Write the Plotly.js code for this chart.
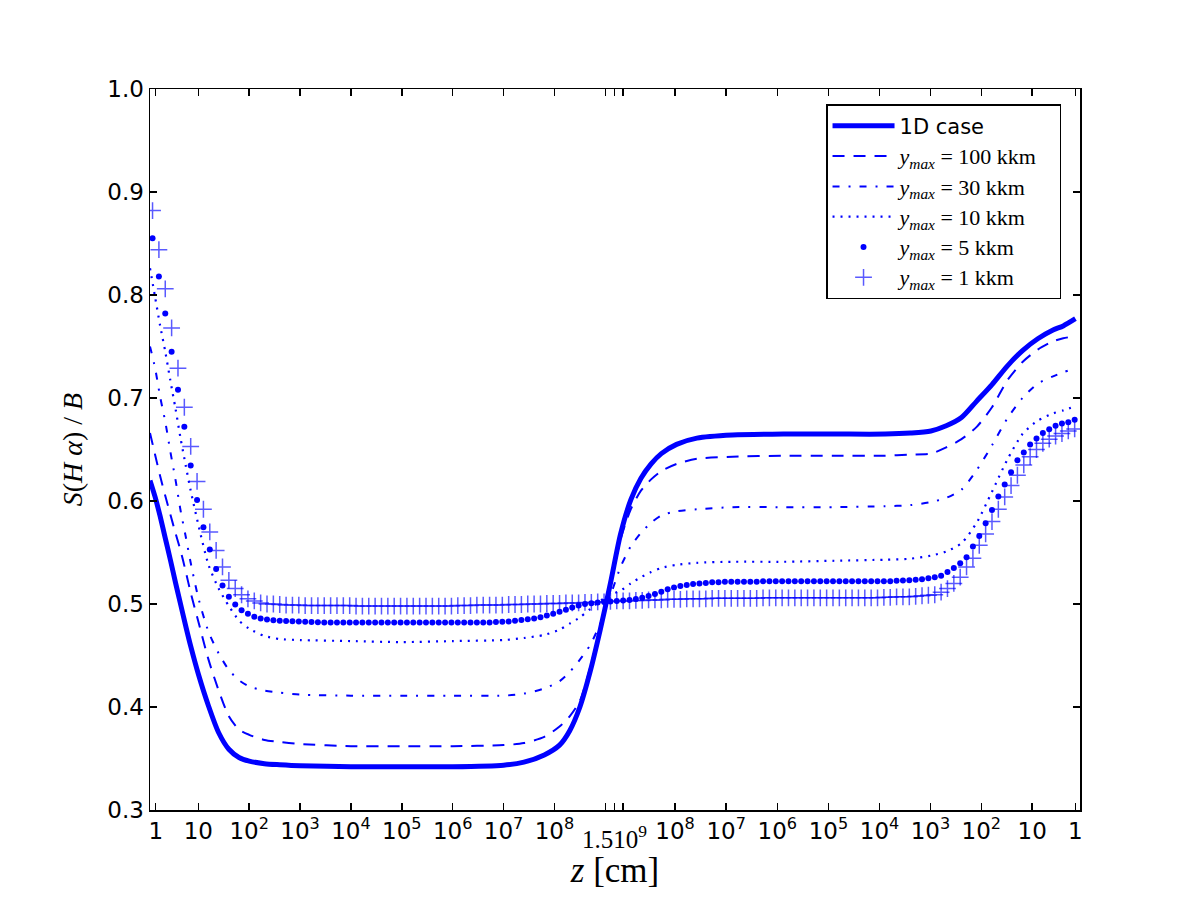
<!DOCTYPE html>
<html>
<head>
<meta charset="utf-8">
<script src="https://cdn.plot.ly/plotly-3.0.1.min.js"></script>
<style>body{margin:0;background:#fff;} #chart{width:1200px;height:900px;}</style>
</head>
<body>
<div id="chart"></div>
<script>
// Axis coordinate u: 10^n at u=n on the left half, mirrored about 1.5e9 on the right half
const xLine = [0.05,0.15,0.25,0.35,0.45,0.55,0.65,0.75,0.85,1.0,1.2,1.4,1.6,1.8,2.0,2.3,2.6,3.0,4.0,5.0,6.0,7.0,7.4,7.8,8.1,8.3,8.5,8.7,8.9,9.1,9.3,9.5,9.7,9.9,10.1,10.4,10.8,11.5,12.5,13.5,14.5,15.0,15.4,15.7,16.0,16.3,16.6,16.9,17.2,17.5,17.8,18.0,18.24];

const case1D = [0.620,0.604,0.585,0.564,0.543,0.521,0.500,0.479,0.459,0.432,0.401,0.375,0.359,0.351,0.3475,0.345,0.344,0.343,0.342,0.342,0.342,0.3435,0.3465,0.3535,0.363,0.377,0.400,0.434,0.475,0.520,0.568,0.601,0.622,0.636,0.646,0.655,0.661,0.664,0.665,0.665,0.665,0.666,0.668,0.673,0.681,0.697,0.713,0.731,0.746,0.7575,0.766,0.770,0.777];

const ymax100 = [0.666,0.645,0.624,0.605,0.587,0.569,0.552,0.532,0.511,0.483,0.446,0.416,0.391,0.378,0.373,0.368,0.366,0.364,0.362,0.362,0.362,0.363,0.365,0.371,0.381,0.391,0.406,0.438,0.477,0.518,0.563,0.592,0.610,0.621,0.629,0.636,0.641,0.643,0.644,0.644,0.644,0.645,0.646,0.652,0.660,0.672,0.691,0.717,0.735,0.747,0.755,0.758,0.760];

const ymax30 = [0.750,0.729,0.701,0.677,0.648,0.621,0.591,0.566,0.540,0.506,0.473,0.452,0.436,0.426,0.420,0.416,0.414,0.412,0.411,0.411,0.411,0.411,0.413,0.418,0.425,0.434,0.446,0.460,0.481,0.508,0.536,0.556,0.569,0.579,0.586,0.590,0.592,0.594,0.594,0.594,0.595,0.596,0.599,0.603,0.611,0.630,0.654,0.680,0.700,0.714,0.721,0.725,0.729];

const ymax10 = [0.826,0.798,0.770,0.745,0.717,0.690,0.661,0.635,0.610,0.577,0.538,0.515,0.498,0.484,0.476,0.469,0.466,0.465,0.464,0.463,0.464,0.465,0.467,0.470,0.475,0.481,0.487,0.495,0.503,0.509,0.513,0.520,0.526,0.531,0.535,0.538,0.540,0.541,0.541,0.542,0.543,0.544,0.547,0.551,0.559,0.579,0.609,0.640,0.665,0.678,0.685,0.688,0.692];

const xMark = [
 0.1,0.225,0.35,0.475,0.6,0.725,0.85,0.975,
 1.1,1.225,1.35,1.475,1.6,1.725,1.85,1.975,
 2.1,2.225,2.35,2.475,2.6,2.725,2.85,2.975,
 3.1,3.225,3.35,3.475,3.6,3.725,3.85,3.975,
 4.1,4.225,4.35,4.475,4.6,4.725,4.85,4.975,
 5.1,5.225,5.35,5.475,5.6,5.725,5.85,5.975,
 6.1,6.225,6.35,6.475,6.6,6.725,6.85,6.975,
 7.1,7.225,7.35,7.475,7.6,7.725,7.85,7.975,
 8.1,8.225,8.35,8.475,8.6,8.725,8.85,8.975,
 9.1,9.225,9.35,9.475,9.6,9.725,9.85,9.975,
 10.1,10.225,10.35,10.475,10.6,10.725,10.85,10.975,
 11.1,11.225,11.35,11.475,11.6,11.725,11.85,11.975,
 12.1,12.225,12.35,12.475,12.6,12.725,12.85,12.975,
 13.1,13.225,13.35,13.475,13.6,13.725,13.85,13.975,
 14.1,14.225,14.35,14.475,14.6,14.725,14.85,14.975,
 15.1,15.225,15.35,15.475,15.6,15.725,15.85,15.975,
 16.1,16.225,16.35,16.475,16.6,16.725,16.85,16.975,
 17.1,17.225,17.35,17.475,17.6,17.725,17.85,17.975,
 18.1,18.225];

const ymax5 = [
 0.855,0.818,0.782,0.745,0.708,0.672,0.6345,0.601,
 0.5745,0.553,0.534,0.518,0.507,0.4995,0.494,0.4905,
 0.4877,0.486,0.485,0.4843,0.4838,0.4835,0.4833,0.483,
 0.4828,0.4825,0.4822,0.482,0.482,0.482,0.482,0.482,
 0.482,0.482,0.482,0.482,0.482,0.482,0.482,0.482,
 0.482,0.482,0.482,0.482,0.482,0.482,0.482,0.482,
 0.482,0.482,0.482,0.482,0.482,0.482,0.4825,0.4828,
 0.483,0.4838,0.4845,0.4852,0.486,0.4872,0.4888,0.4905,
 0.4925,0.4945,0.4965,0.4985,0.500,0.5008,0.5015,0.502,
 0.5025,0.503,0.5035,0.504,0.5048,0.506,0.5078,0.5098,
 0.512,0.5143,0.516,0.5175,0.5185,0.5195,0.520,0.5205,
 0.521,0.521,0.5215,0.5215,0.5217,0.5217,0.5217,0.5217,
 0.522,0.522,0.522,0.522,0.522,0.522,0.522,0.522,
 0.522,0.522,0.522,0.522,0.522,0.522,0.522,0.522,
 0.522,0.522,0.522,0.522,0.5222,0.5225,0.5228,0.523,
 0.5235,0.524,0.525,0.526,0.5275,0.531,0.535,0.5395,
 0.5455,0.5558,0.566,0.5783,0.5913,0.6044,0.616,0.628,
 0.6395,0.647,0.6548,0.6607,0.666,0.6697,0.673,0.6752,
 0.6765,0.679];

const ymax1 = [
 0.882,0.844,0.806,0.768,0.729,0.691,0.653,0.619,
 0.592,0.570,0.552,0.536,0.523,0.515,0.509,0.505,
 0.503,0.501,0.500,0.500,0.4995,0.499,0.499,0.499,
 0.4985,0.4985,0.4985,0.4985,0.4985,0.4985,0.4985,0.4985,
 0.498,0.498,0.498,0.498,0.498,0.498,0.498,0.498,
 0.498,0.498,0.498,0.498,0.498,0.498,0.498,0.498,
 0.4985,0.4985,0.4985,0.499,0.499,0.499,0.499,0.499,
 0.4995,0.4995,0.4995,0.500,0.500,0.500,0.5005,0.5005,
 0.5005,0.501,0.501,0.501,0.5015,0.5015,0.502,0.502,
 0.5025,0.503,0.503,0.503,0.5035,0.5035,0.504,0.504,
 0.504,0.5045,0.5045,0.5045,0.505,0.505,0.505,0.505,
 0.5055,0.5055,0.5055,0.5055,0.5055,0.5055,0.5055,0.5055,
 0.506,0.506,0.506,0.506,0.506,0.506,0.506,0.506,
 0.506,0.506,0.506,0.506,0.506,0.506,0.506,0.506,
 0.506,0.506,0.506,0.5065,0.5065,0.507,0.507,0.507,
 0.5075,0.508,0.5085,0.509,0.5115,0.515,0.520,0.526,
 0.536,0.5445,0.557,0.568,0.580,0.592,0.604,0.615,
 0.625,0.635,0.643,0.650,0.656,0.660,0.663,0.6655,
 0.668,0.670];

const xTickVals = [0.162,1,2,3,4,5,6,7,8,9.0,9.176,9.352,10.37,11.375,12.38,13.385,14.39,15.39,16.39,17.39,18.238];
const xTickText = ["1","10","10<sup>2</sup>","10<sup>3</sup>","10<sup>4</sup>","10<sup>5</sup>","10<sup>6</sup>","10<sup>7</sup>","10<sup>8</sup>","","","","10<sup>8</sup>","10<sup>7</sup>","10<sup>6</sup>","10<sup>5</sup>","10<sup>4</sup>","10<sup>3</sup>","10<sup>2</sup>","10","1"];
const centerLabel = "1.510<sup>9</sup>";
const centerPos = 9.176;

const seriesNames = ["1D case","100 kkm","30 kkm","10 kkm","5 kkm","1 kkm"];

const blue = "#0000ff";
const serif = "Liberation Serif, DejaVu Serif, serif";
function ymaxName(s){
  return "<span style='font-family:Liberation Serif;font-size:22px'><i>y</i><sub><i>max</i></sub> = " + s + "&nbsp;&nbsp;&nbsp;</span>";
}

const traces = [
  {x: xLine, y: case1D, name: seriesNames[0], mode: "lines",
   line: {color: blue, width: 5, shape: "spline", smoothing: 0.75}},
  {x: xLine, y: ymax100, name: ymaxName(seriesNames[1]), mode: "lines",
   line: {color: blue, width: 2, dash: "12px,9px", shape: "spline", smoothing: 0.7}},
  {x: xLine, y: ymax30, name: ymaxName(seriesNames[2]), mode: "lines",
   line: {color: blue, width: 2, dash: "7px,9px,2px,9px", shape: "spline", smoothing: 0.7}},
  {x: xLine, y: ymax10, name: ymaxName(seriesNames[3]), mode: "lines",
   line: {color: blue, width: 2.2, dash: "2px,6px", shape: "spline", smoothing: 0.7}},
  {x: xMark, y: ymax5, name: ymaxName(seriesNames[4]), mode: "markers",
   marker: {symbol: "circle", size: 6, color: blue, line: {width: 0}}},
  {x: xMark, y: ymax1, name: ymaxName(seriesNames[5]), mode: "markers",
   marker: {symbol: "cross-thin-open", size: 12, color: "rgba(0,0,255,0.65)",
            line: {width: 1.5, color: "rgba(0,0,255,0.65)"}}}
];

const axisCommon = {
  showline: true, linecolor: "black", linewidth: 1.5, mirror: "ticks",
  ticks: "inside", ticklen: 7, tickwidth: 1.5, tickcolor: "black",
  showgrid: false, zeroline: false,
  tickfont: {family: "DejaVu Sans", size: 23, color: "black"}
};

const layout = {
  width: 1200, height: 900,
  margin: {l: 150, r: 120, t: 89, b: 90},
  paper_bgcolor: "white", plot_bgcolor: "white",
  showlegend: true,
  xaxis: Object.assign({}, axisCommon, {
    range: [0.05, 18.33],
    tickmode: "array", tickvals: xTickVals, ticktext: xTickText,
    title: {text: "<i>z</i> [cm]", font: {family: serif, size: 35, color: "black"}, standoff: 14}
  }),
  yaxis: Object.assign({}, axisCommon, {
    range: [0.3, 1.0], dtick: 0.1, tick0: 0.3, tickformat: ".1f",
    title: {text: "<i>S</i>(<i>H α</i>) / <i>B</i>", font: {family: serif, size: 28, color: "black"}, standoff: 16}
  }),
  legend: {
    x: 0.9796, xanchor: "right", y: 0.979, yanchor: "top",
    bgcolor: "white", bordercolor: "black", borderwidth: 1.5,
    font: {family: "DejaVu Sans", size: 21, color: "black"},
    itemwidth: 62, tracegroupgap: 0
  },
  annotations: [{
    x: centerPos, xref: "x", y: 0, yref: "paper", yanchor: "top", xanchor: "center",
    yshift: -9, showarrow: false, text: centerLabel,
    font: {family: serif, size: 25, color: "black"}
  }]
};

Plotly.newPlot("chart", traces, layout, {displayModeBar: false, staticPlot: true});
</script>
</body>
</html>
